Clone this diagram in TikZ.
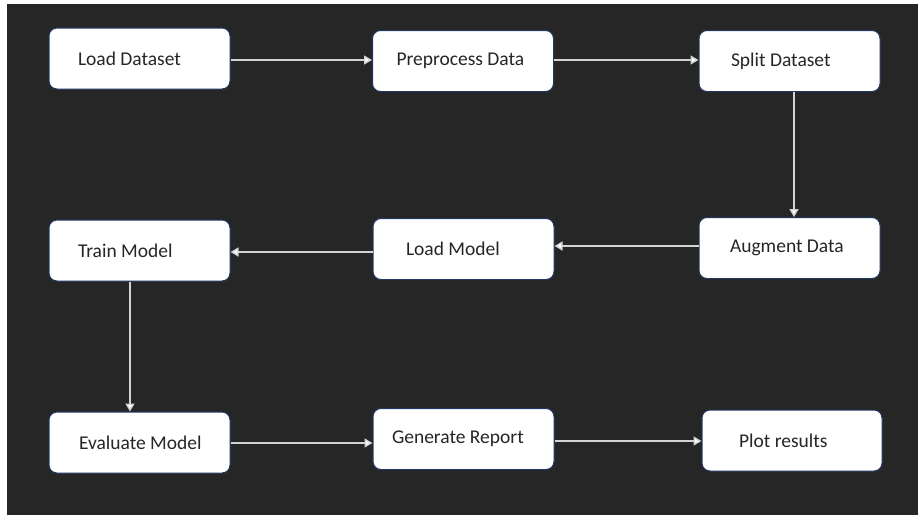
\documentclass[tikz,border=0pt]{standalone}
\usepackage{fontspec}
\setmainfont{Carlito}
\usetikzlibrary{arrows.meta}
\definecolor{bg}{HTML}{262626}
\definecolor{boxline}{HTML}{203864}
\definecolor{arrowc}{HTML}{D4D4D4}
\definecolor{txt}{HTML}{262626}
\tikzset{
  box/.style={draw=boxline, line width=1pt, fill=white, rounded corners=8pt,
    minimum height=61pt, minimum width=181pt, text=txt,
    font=\fontsize{19.5}{22}\selectfont},
  arr/.style={draw=arrowc, line width=1.4pt,
    -{Triangle[length=8pt,width=9pt,fill=white]}}
}
\begin{document}
\begin{tikzpicture}[x=1pt,y=-1pt]
\useasboundingbox (0,0) rectangle (918,515);
\fill[bg] (7,4) rectangle (918,515);

\node[box, inner xsep=29pt] (ld) at (139.5,58.5) {\makebox[123pt][l]{Load Dataset}};
\node[box, inner xsep=24pt] (pp) at (463,61) {\makebox[133pt][l]{Preprocess Data}};
\node[box, inner xsep=32pt] (sd) at (789.5,61) {\makebox[117pt][l]{Split Dataset}};
\node[box, inner xsep=31pt] (aug) at (789.5,248) {\makebox[119pt][l]{Augment Data}};
\node[box, inner xsep=33pt] (lm) at (463.5,249) {\makebox[115pt][l]{Load Model}};
\node[box, inner xsep=29pt] (tm) at (139.5,250.5) {\makebox[123pt][l]{Train Model}};
\node[box, inner xsep=30pt] (em) at (139.5,442.5) {\makebox[121pt][l]{Evaluate Model}};
\node[box, inner xsep=19pt] (gr) at (463.5,439) {\makebox[143pt][l]{Generate Report}};
\node[box, inner xsep=37pt, minimum width=180pt] (pr) at (792,440.5) {\makebox[106pt][l]{Plot results}};

\draw[arr] ([yshift=-1.5pt]ld.east) -- ([yshift=1pt]pp.west);
\draw[arr] ([yshift=1pt]pp.east) -- ([yshift=1pt]sd.west);
\draw[arr] ([xshift=4.5pt]sd.south) -- ([xshift=4.5pt]aug.north);
\draw[arr] ([yshift=2pt]aug.west) -- ([yshift=3pt]lm.east);
\draw[arr] ([yshift=-3pt]lm.west) -- ([yshift=-1.5pt]tm.east);
\draw[arr] ([xshift=-9.5pt]tm.south) -- ([xshift=-9.5pt]em.north);
\draw[arr] ([yshift=-0.5pt]em.east) -- ([yshift=-4pt]gr.west);
\draw[arr] ([yshift=-2pt]gr.east) -- ([yshift=-0.5pt]pr.west);
\end{tikzpicture}
\end{document}
